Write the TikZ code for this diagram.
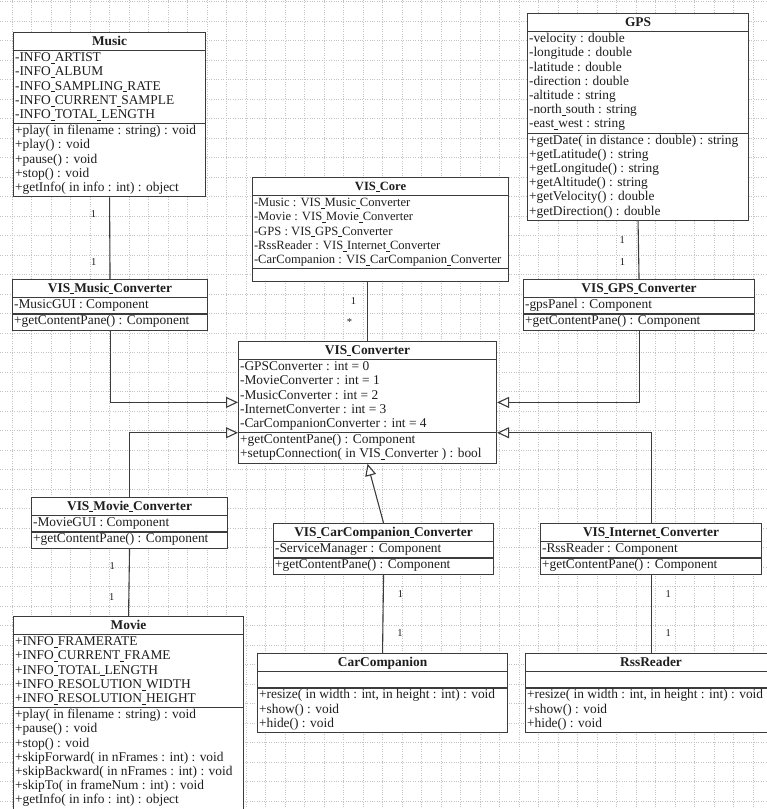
\documentclass[tikz,border=0pt]{standalone}
\usepackage{fontspec}
\setmainfont{Liberation Serif}
\usetikzlibrary{arrows.meta,shapes.multipart}
\definecolor{umlline}{RGB}{60,60,60}
\definecolor{umltext}{RGB}{30,30,30}
\definecolor{gridgray}{RGB}{195,195,195}
\newcommand{\cpt}[1]{\strut#1\strut}
\newcommand{\ttl}[1]{\rule[-4.5pt]{0pt}{16pt}\textbf{#1}}
\newcommand{\us}{\rule[-1.8pt]{0.3em}{0.5pt}}

\begin{document}
\begin{tikzpicture}[x=1pt,y=-1pt,
  cls/.style={draw=umlline,line width=1.1pt,fill=white,rectangle split,
              rectangle split parts=3,rectangle split part align={center,left,left},
              align=left,anchor=north west,inner xsep=1.5pt,inner ysep=0.5pt,
              text=umltext,font=\fontsize{13.4}{14.2}\selectfont},
  assoc/.style={draw=umlline,line width=1.1pt},
  gen/.style={draw=umlline,line width=1.1pt,-{Triangle[open,length=12pt,width=11pt]}},
  mult/.style={font=\fontsize{10.5}{11}\selectfont,text=umltext,inner sep=1pt},
  gridln/.style={draw=gridgray,line width=0.4pt,dotted}]
  \useasboundingbox (0,0) rectangle (767,809);
  \clip (0,0) rectangle (767,809);
  \fill[white] (0,0) rectangle (767,809);
  \foreach \g in {0,...,39}{
    \draw[gridln] ({12+19.5*\g},0) -- ({12+19.5*\g},809);}
  \foreach \g in {0,...,41}{
    \draw[gridln] (0,{1.5+19.5*\g}) -- (767,{1.5+19.5*\g});}

  \node[cls,minimum width=192pt](music) at (13,32)
    {\ttl{Music}\nodepart{two}\cpt{-INFO\us ARTIST\\-INFO\us ALBUM\\-INFO\us SAMPLING\us RATE\\-INFO\us CURRENT\us SAMPLE\\-INFO\us TOTAL\us LENGTH}
     \nodepart{three}\cpt{+play( in filename : string) : void\\+play() : void\\+pause() : void\\+stop() : void\\+getInfo( in info : int) : object}};
  \node[cls,minimum width=221pt](gps) at (527,13)
    {\ttl{GPS}\nodepart{two}\cpt{-velocity : double\\-longitude : double\\-latitude : double\\-direction : double\\-altitude : string\\-north\us south : string\\-east\us west : string}
     \nodepart{three}\cpt{+getDate( in distance : double) : string\\+getLatitude() : string\\+getLongitude() : string\\+getAltitude() : string\\+getVelocity() : double\\+getDirection() : double}};
  \node[cls,minimum width=256pt,font=\fontsize{12.6}{14.2}\selectfont](core) at (252,177)
    {\ttl{VIS\us Core}\nodepart{two}\cpt{-Music : VIS\us Music\us Converter\\-Movie : VIS\us Movie\us Converter\\-GPS : VIS\us GPS\us Converter\\-RssReader : VIS\us Internet\us Converter\\-CarCompanion : VIS\us CarCompanion\us Converter}
     \nodepart{three}\rule{0pt}{11pt}};
  \node[cls,minimum width=195pt](musicconv) at (12,279)
    {\ttl{VIS\us Music\us Converter}\nodepart{two}\cpt{-MusicGUI : Component}
     \nodepart{three}\cpt{+getContentPane() : Component}};
  \node[cls,minimum width=231pt](gpsconv) at (523,279)
    {\ttl{VIS\us GPS\us Converter}\nodepart{two}\cpt{-gpsPanel : Component}
     \nodepart{three}\cpt{+getContentPane() : Component}};
  \node[cls,minimum width=258pt](conv) at (238,341)
    {\ttl{VIS\us Converter}\nodepart{two}\cpt{-GPSConverter : int = 0\\-MovieConverter : int = 1\\-MusicConverter : int = 2\\-InternetConverter : int = 3\\-CarCompanionConverter : int = 4}
     \nodepart{three}\cpt{+getContentPane() : Component\\+setupConnection( in VIS\us Converter ) : bool}};
  \node[cls,minimum width=196pt](movieconv) at (31,497)
    {\ttl{VIS\us Movie\us Converter}\nodepart{two}\cpt{-MovieGUI : Component}
     \nodepart{three}\cpt{+getContentPane() : Component}};
  \node[cls,minimum width=220pt](carconv) at (273,523)
    {\ttl{VIS\us CarCompanion\us Converter}\nodepart{two}\cpt{-ServiceManager : Component}
     \nodepart{three}\cpt{+getContentPane() : Component}};
  \node[cls,minimum width=221pt](inetconv) at (540,523)
    {\ttl{VIS\us Internet\us Converter}\nodepart{two}\cpt{-RssReader : Component}
     \nodepart{three}\cpt{+getContentPane() : Component}};
  \node[cls,minimum width=230pt](movie) at (13,616)
    {\ttl{Movie}\nodepart{two}\cpt{+INFO\us FRAMERATE\\+INFO\us CURRENT\us FRAME\\+INFO\us TOTAL\us LENGTH\\+INFO\us RESOLUTION\us WIDTH\\+INFO\us RESOLUTION\us HEIGHT}
     \nodepart{three}\cpt{+play( in filename : string) : void\\+pause() : void\\+stop() : void\\+skipForward( in nFrames : int) : void\\+skipBackward( in nFrames : int) : void\\+skipTo( in frameNum : int) : void\\+getInfo( in info : int) : object}};
  \node[cls,minimum width=250pt](carcomp) at (257,653)
    {\ttl{CarCompanion}\nodepart{two}\cpt{}
     \nodepart{three}\cpt{+resize( in width : int,  in height : int) : void\\+show() : void\\+hide() : void}};
  \node[cls,minimum width=251pt](rss) at (525,653)
    {\ttl{RssReader}\nodepart{two}\cpt{}
     \nodepart{three}\cpt{+resize( in width : int,  in height : int) : void\\+show() : void\\+hide() : void}};

  % associations
  \draw[assoc](music.south) -- node[mult,pos=.2,left=12pt]{1}
    node[mult,pos=.79,left=12pt]{1} (musicconv.north);
  \draw[assoc](gps.south) -- node[mult,pos=.32,left=12pt]{1}
    node[mult,pos=.71,left=12pt]{1} (gpsconv.north);
  \draw[assoc](conv.north |- core.south) -- node[mult,pos=.32,left=10pt]{1}
    node[mult,pos=.68,left=14pt]{*} (conv.north);
  \draw[assoc](movieconv.south) -- node[mult,pos=.25,left=13pt]{1}
    node[mult,pos=.72,left=13pt]{1} (movie.north);
  \draw[assoc](carconv.south) -- node[mult,pos=.24,right=13pt]{1}
    node[mult,pos=.74,right=13pt]{1} (carcomp.north);
  \draw[assoc](inetconv.south) -- node[mult,pos=.25,right=13pt]{1}
    node[mult,pos=.74,right=13pt]{1} (rss.north);

  % generalizations
  \draw[gen](musicconv.south) |- (conv.west);
  \draw[gen](movieconv.north) |- (conv.two split west);
  \draw[gen](gpsconv.south) |- (conv.east);
  \draw[gen](inetconv.north) |- (conv.two split east);
  \draw[gen](carconv.north) -- (conv.south);
\end{tikzpicture}
\end{document}
